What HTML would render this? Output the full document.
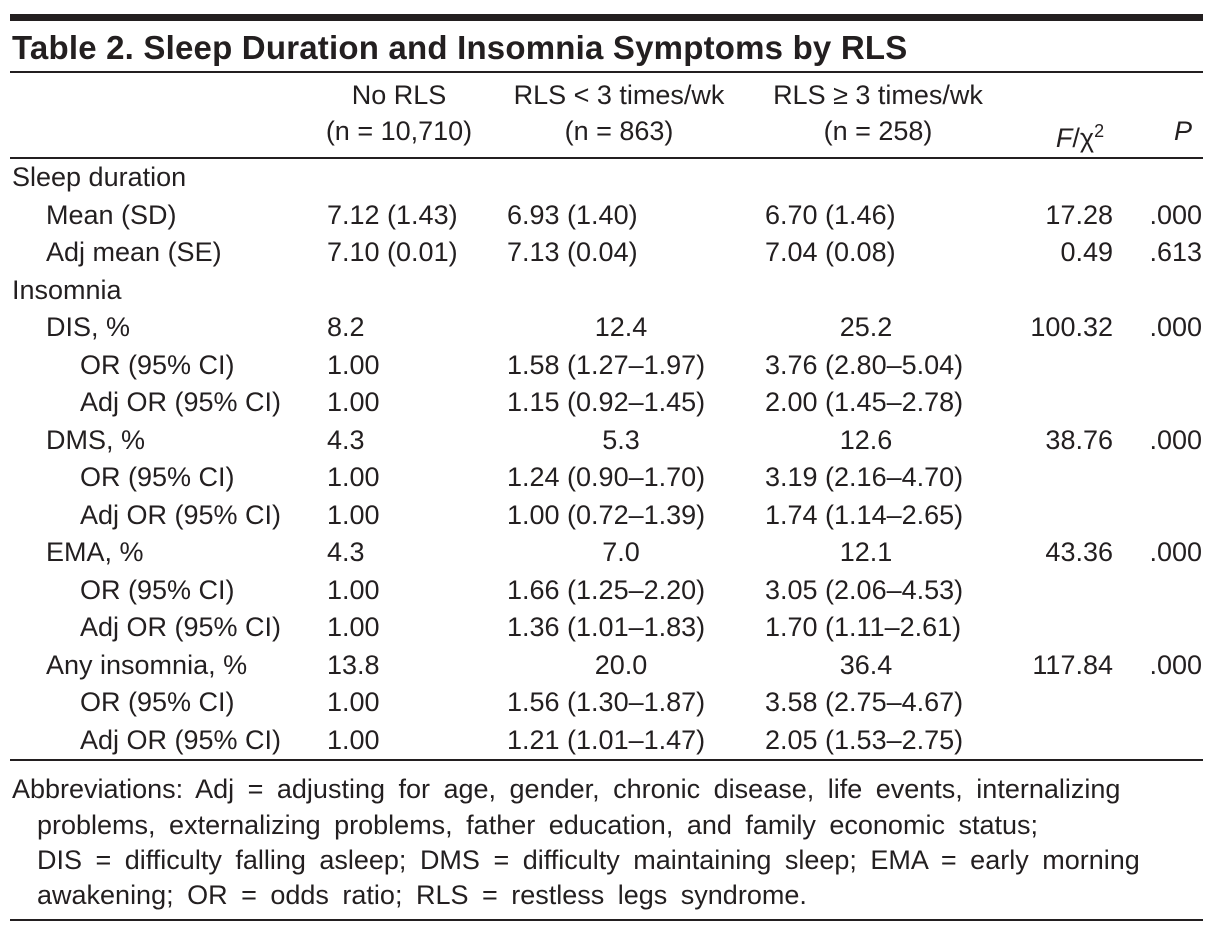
<!DOCTYPE html>
<html><head><meta charset="utf-8">
<style>
body{margin:0;width:1214px;height:935px;background:#fff;position:relative;overflow:hidden;font-family:"Liberation Sans",sans-serif;color:#231f20}
.t{position:absolute;font-size:27px;line-height:36px;height:36px;white-space:nowrap}
.r{text-align:right}
.c{text-align:center;transform:translateX(-50%)}
.fn{word-spacing:6px}
.rule{position:absolute;left:10px;width:1193px;background:#231f20}
</style></head><body>
<div class="rule" style="top:14px;height:7px"></div>
<div class="t" style="left:12px;top:27px;font-weight:bold;font-size:33px;letter-spacing:0.2px;height:42px;line-height:42px">Table 2. Sleep Duration and Insomnia Symptoms by RLS</div>
<div class="rule" style="top:71px;height:2px"></div>

<div class="t c" style="left:399px;top:77px">No RLS</div>
<div class="t c" style="left:399px;top:113px">(n = 10,710)</div>
<div class="t c" style="left:619px;top:77px">RLS &lt; 3 times/wk</div>
<div class="t c" style="left:619px;top:113px">(n = 863)</div>
<div class="t c" style="left:878px;top:77px">RLS ≥ 3 times/wk</div>
<div class="t c" style="left:878px;top:113px">(n = 258)</div>
<div class="t c" style="left:1080px;top:113px"><i>F</i>/χ<sup style="font-size:18px">2</sup></div>
<div class="t c" style="left:1183px;top:113px"><i>P</i></div>
<div class="rule" style="top:157px;height:2px"></div>

<div id="rows"></div>

<div class="rule" style="top:759px;height:2px"></div>
<div class="t fn" style="left:12px;top:771px">Abbreviations: Adj = adjusting for age, gender, chronic disease, life events, internalizing</div>
<div class="t fn" style="left:37px;top:807px">problems, externalizing problems, father education, and family economic status;</div>
<div class="t fn" style="left:37px;top:842px">DIS = difficulty falling asleep; DMS = difficulty maintaining sleep; EMA = early morning</div>
<div class="t fn" style="left:37px;top:877px">awakening; OR = odds ratio; RLS = restless legs syndrome.</div>
<div class="rule" style="top:919px;height:2px"></div>

<script>
const labels=["Sleep duration","Mean (SD)","Adj mean (SE)","Insomnia","DIS, %","OR (95% CI)","Adj OR (95% CI)","DMS, %","OR (95% CI)","Adj OR (95% CI)","EMA, %","OR (95% CI)","Adj OR (95% CI)","Any insomnia, %","OR (95% CI)","Adj OR (95% CI)"];
const indents=[0,1,1,0,1,2,2,1,2,2,1,2,2,1,2,2];
const col1=["","7.12 (1.43)","7.10 (0.01)","","8.2","1.00","1.00","4.3","1.00","1.00","4.3","1.00","1.00","13.8","1.00","1.00"];
const col2=["","6.93 (1.40)","7.13 (0.04)","","12.4","1.58 (1.27–1.97)","1.15 (0.92–1.45)","5.3","1.24 (0.90–1.70)","1.00 (0.72–1.39)","7.0","1.66 (1.25–2.20)","1.36 (1.01–1.83)","20.0","1.56 (1.30–1.87)","1.21 (1.01–1.47)"];
const col3=["","6.70 (1.46)","7.04 (0.08)","","25.2","3.76 (2.80–5.04)","2.00 (1.45–2.78)","12.6","3.19 (2.16–4.70)","1.74 (1.14–2.65)","12.1","3.05 (2.06–4.53)","1.70 (1.11–2.61)","36.4","3.58 (2.75–4.67)","2.05 (1.53–2.75)"];
const colF=["","17.28","0.49","","100.32","","","38.76","","","43.36","","","117.84","",""];
const colP=["",".000",".613","",".000","","",".000","","",".000","","",".000","",""];
const host=document.getElementById('rows');
const indentPx=[12,46,80];
function add(txt,style,cls,name){
  if(!txt)return;
  const d=document.createElement('div');
  d.className='t '+cls;
  d.setAttribute('style',style);
  d.textContent=txt;
  
  
  host.appendChild(d);
}
labels.forEach((l,i)=>{
  const top=159+i*37.5;
  add(l,`left:${indentPx[indents[i]]}px;top:${top}px`,'', 'row-label');
  const centered=/^\d+\.\d$/.test(col2[i]);
  add(col1[i],`left:327px;top:${top}px`,'','cell-no-rls');
  if(centered){
    add(col2[i],`left:621px;top:${top}px`,'c','cell-rls-lt3');
    add(col3[i],`left:866px;top:${top}px`,'c','cell-rls-ge3');
  }else{
    add(col2[i],`left:507px;top:${top}px`,'','cell-rls-lt3');
    add(col3[i],`left:765px;top:${top}px`,'','cell-rls-ge3');
  }
  add(colF[i],`right:${1214-1113}px;top:${top}px`,'r','cell-f-chi2');
  add(colP[i],`right:${1214-1202}px;top:${top}px`,'r','cell-p');
});
</script>
</body></html>
